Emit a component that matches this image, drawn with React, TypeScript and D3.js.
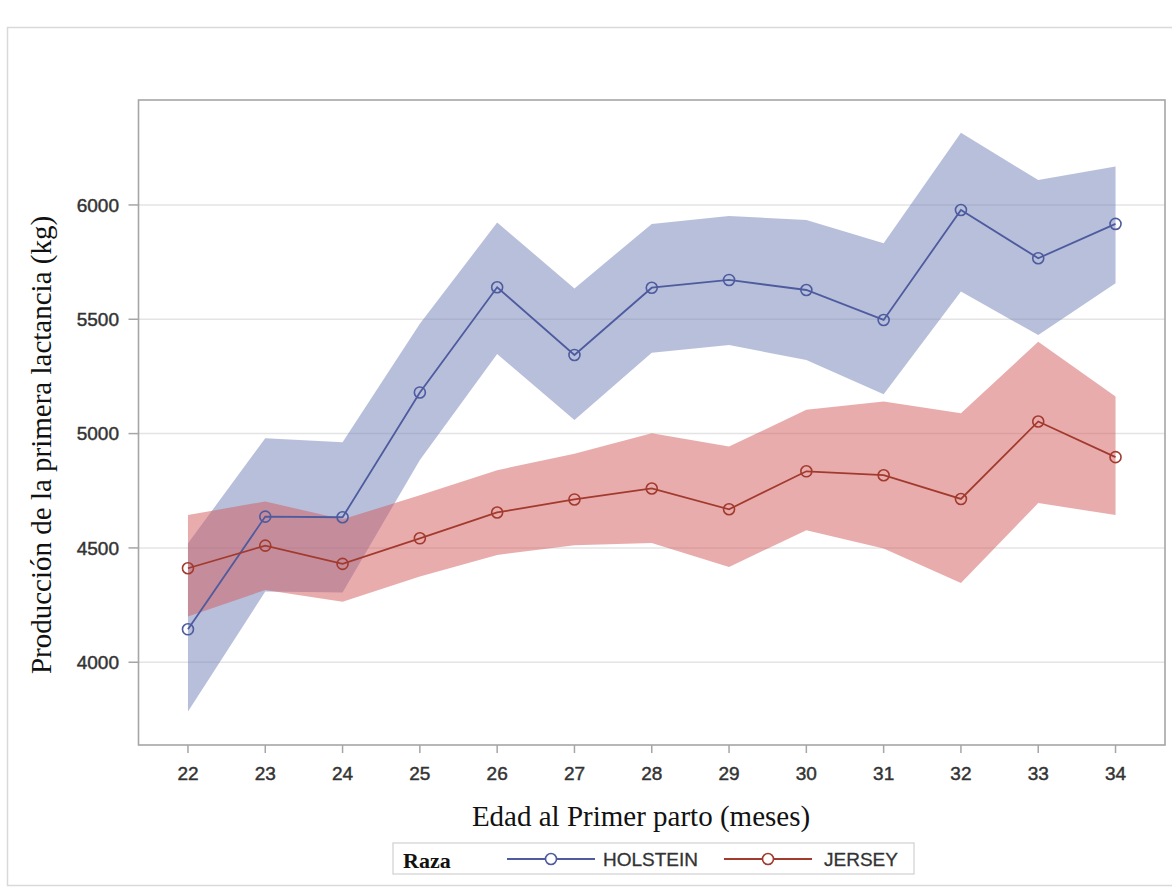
import React from "react";
import * as d3 from "d3";

const ages = [22, 23, 24, 25, 26, 27, 28, 29, 30, 31, 32, 33, 34];
const holsteinMean = [4144, 4637, 4634, 5180, 5640, 5344, 5638, 5672, 5628, 5497, 5978, 5767, 5917];
const holsteinUpper = [4520, 4980, 4962, 5480, 5923, 5635, 5917, 5952, 5934, 5832, 6316, 6109, 6168];
const holsteinLower = [3784, 4309, 4305, 4885, 5348, 5059, 5354, 5387, 5322, 5172, 5621, 5431, 5657];
const jerseyMean = [4411, 4510, 4430, 4542, 4655, 4712, 4760, 4669, 4835, 4818, 4714, 5053, 4897];
const jerseyUpper = [4644, 4703, 4625, 4730, 4840, 4912, 5001, 4943, 5104, 5140, 5089, 5402, 5162];
const jerseyLower = [4200, 4316, 4265, 4375, 4469, 4512, 4522, 4417, 4577, 4497, 4346, 4696, 4644];
const yTicks = [4000, 4500, 5000, 5500, 6000];
const seriesNames = ["HOLSTEIN", "JERSEY"];
const legendTitle = "Raza";
const xTitle = "Edad al Primer parto (meses)";
const yTitle = "Producción de la primera lactancia (kg)";

const W = 1172;
const H = 888;
const plot = { left: 138.5, right: 1165, top: 100, bottom: 745 };

const sans = "'Liberation Sans', Arial, sans-serif";
const serif = "'Liberation Serif', 'Times New Roman', serif";

export default function App() {
  const x = d3.scaleLinear().domain([21.36, 34.64]).range([plot.left, plot.right]);
  const y = d3.scaleLinear().domain([3638, 6459]).range([plot.bottom, plot.top]);

  const series = [
    { name: seriesNames[0], mean: holsteinMean, lo: holsteinLower, hi: holsteinUpper, line: "#4e5b9e", band: "#6f7fb7", bandOp: 0.5 },
    { name: seriesNames[1], mean: jerseyMean, lo: jerseyLower, hi: jerseyUpper, line: "#a23a2e", band: "#d35a5c", bandOp: 0.5 },
  ];

  const bandPath = (lo: number[], hi: number[]) =>
    d3
      .area<number>()
      .x((_, i) => x(ages[i]))
      .y0((_, i) => y(lo[i]))
      .y1((_, i) => y(hi[i]))(ages as any);

  const linePath = (vals: number[]) =>
    d3
      .line<number>()
      .x((_, i) => x(ages[i]))
      .y((d) => y(d))(vals);

  const legendY = 859;
  const tickText = { fontFamily: sans, fontSize: 19, fill: "#333", stroke: "#333", strokeWidth: 0.45 };

  return (
    <svg
      width={W}
      height={H}
      style={{ position: "absolute", left: 0, top: 0, background: "#fff" }}
    >
      <rect x={0} y={0} width={W} height={H} fill="#fff" />
      <rect x={7.5} y={27.5} width={W + 20} height={858} fill="none" stroke="#d9d9d9" strokeWidth={1.5} />

      {/* gridlines */}
      {yTicks.map((t) => (
        <line key={"g" + t} x1={plot.left} x2={plot.right} y1={y(t)} y2={y(t)} stroke="#e4e4e4" strokeWidth={1.5} />
      ))}

      {/* bands */}
      {series.map((s) => (
        <path key={"b" + s.name} d={bandPath(s.lo, s.hi) || ""} fill={s.band} fillOpacity={s.bandOp} stroke="none" />
      ))}

      {/* lines & markers */}
      {series.map((s) => (
        <g key={"l" + s.name}>
          <path d={linePath(s.mean) || ""} fill="none" stroke={s.line} strokeWidth={1.8} />
          {s.mean.map((v, i) => (
            <circle key={i} cx={x(ages[i])} cy={y(v)} r={5.5} fill="none" stroke={s.line} strokeWidth={1.6} />
          ))}
        </g>
      ))}

      {/* frame */}
      <rect
        x={plot.left}
        y={plot.top}
        width={plot.right - plot.left}
        height={plot.bottom - plot.top}
        fill="none"
        stroke="#a6a6a6"
        strokeWidth={1.6}
      />

      {/* y axis */}
      {yTicks.map((t) => (
        <g key={"y" + t}>
          <line x1={plot.left - 10} x2={plot.left} y1={y(t)} y2={y(t)} stroke="#a6a6a6" strokeWidth={1.5} />
          <text x={119} y={y(t)} dy="0.36em" textAnchor="end" {...tickText}>
            {t}
          </text>
        </g>
      ))}

      {/* x axis */}
      {ages.map((a) => (
        <g key={"x" + a}>
          <line x1={x(a)} x2={x(a)} y1={plot.bottom} y2={plot.bottom + 8} stroke="#a6a6a6" strokeWidth={1.5} />
          <text x={x(a)} y={780} textAnchor="middle" {...tickText}>
            {a}
          </text>
        </g>
      ))}

      {/* titles */}
      <text x={641} y={826} textAnchor="middle" fontFamily={serif} fontSize={29} fill="#111">
        {xTitle}
      </text>
      <text
        transform={`translate(51,445) rotate(-90)`}
        textAnchor="middle"
        fontFamily={serif}
        fontSize={29}
        fill="#111"
      >
        {yTitle}
      </text>

      {/* legend */}
      <rect x={393} y={843} width={521} height={31} fill="#fff" stroke="#d0d0d0" strokeWidth={1.2} />
      <text x={403} y={868} fontFamily={serif} fontWeight="bold" fontSize={22} fill="#111">
        {legendTitle}
      </text>
      {series.map((s, i) => {
        const x0 = i === 0 ? 507 : 724;
        const x1 = i === 0 ? 595 : 812;
        const tx = i === 0 ? 603 : 824;
        return (
          <g key={"lg" + s.name}>
            <line x1={x0} x2={x1} y1={legendY} y2={legendY} stroke={s.line} strokeWidth={1.8} />
            <circle cx={(x0 + x1) / 2} cy={legendY} r={5.5} fill="#fff" stroke={s.line} strokeWidth={1.6} />
            <text x={tx} y={866} {...tickText} strokeWidth={0.3}>
              {s.name}
            </text>
          </g>
        );
      })}
    </svg>
  );
}
